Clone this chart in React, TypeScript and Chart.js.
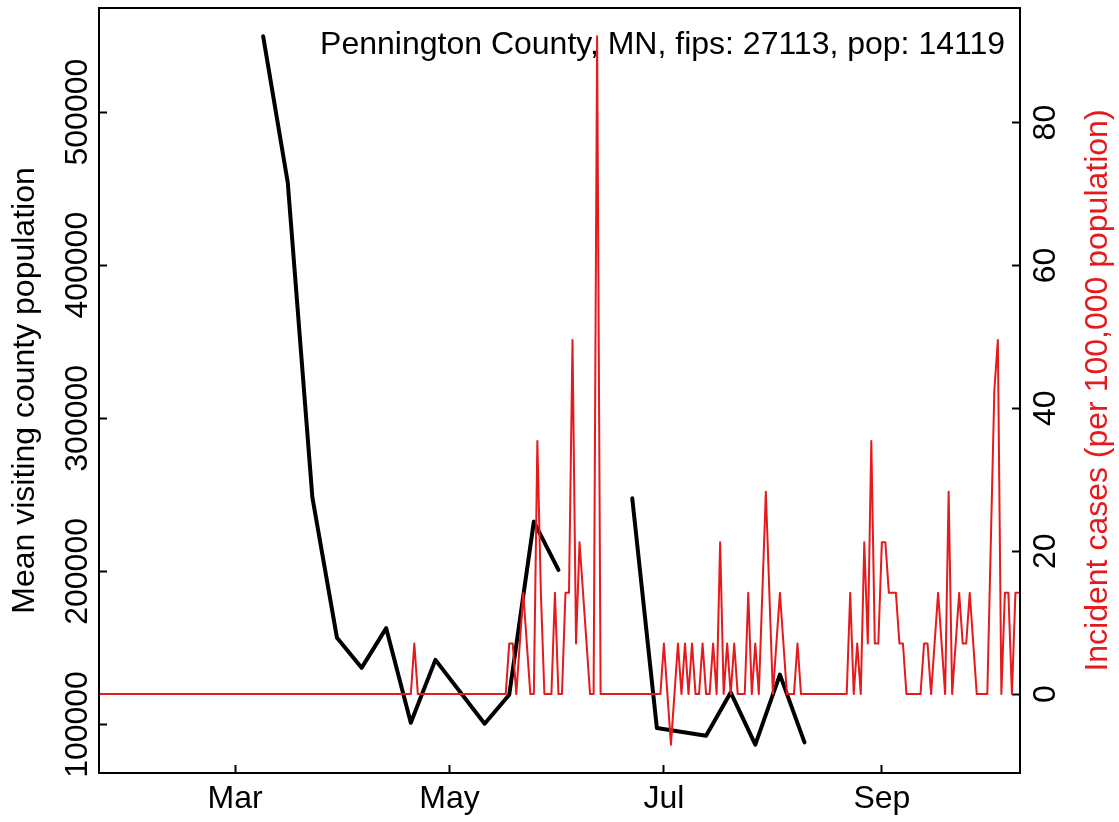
import React, { useEffect, useRef } from 'react';
import { Chart, registerables } from 'chart.js';

Chart.register(...registerables);

// ---------- DATA ----------
const TITLE = 'Pennington County, MN, fips: 27113, pop: 14119';
const LEFT_TITLE = 'Mean visiting county population';
const RIGHT_TITLE = 'Incident cases (per 100,000 population)';
const POPULATION = 14119;

// x values are day-of-year 2020 (Jan 1 = 0)
const monthTickDays = [60, 121, 182, 244];
const monthTickLabels = ['Mar', 'May', 'Jul', 'Sep'];

const leftTicks = [100000, 200000, 300000, 400000, 500000];
const rightTicks = [0, 20, 40, 60, 80];

// weekly mean visiting population (null = missing, breaks the line)
const visitDays = [68, 75, 82, 89, 96, 103, 110, 117, 131, 138, 145, 152, 159, 173, 180, 194, 201, 208, 215, 222];
const visitValues = [549500, 453900, 248300, 156600, 137000, 162900, 101100, 142200, 100500, 119400, 232500, 201000, null, 247700, 97700, 92600, 120900, 86800, 132600, 88300];

// daily new cases, first day = Jan 22 (day 21)
const caseStartDay = 21;
const dailyCases = [
  0, 0, 0, 0, 0, 0, 0, 0, 0, 0, 0, 0, 0, 0, 0, 0, 0, 0, 0, 0, 0, 0, 0, 0, 0, 0, 0, 0, 0, 0,
  0, 0, 0, 0, 0, 0, 0, 0, 0, 0, 0, 0, 0, 0, 0, 0, 0, 0, 0, 0, 0, 0, 0, 0, 0, 0, 0, 0, 0, 0,
  0, 0, 0, 0, 0, 0, 0, 0, 0, 0, 0, 0, 0, 0, 0, 0, 0, 0, 0, 0, 0, 0, 0, 0, 0, 0, 0, 0, 0, 0,
  1, 0, 0, 0, 0, 0, 0, 0, 0, 0, 0, 0, 0, 0, 0, 0, 0, 0, 0, 0, 0, 0, 0, 0, 0, 0, 0, 1, 1, 0,
  1, 2, 1, 0, 0, 5, 2, 0, 0, 0, 2, 0, 0, 2, 2, 7, 1, 3, 2, 1, 0, 0, 13, 0, 0, 0, 0, 0, 0, 0,
  0, 0, 0, 0, 0, 0, 0, 0, 0, 0, 0, 1, 0, -1, 0, 1, 0, 1, 0, 1, 0, 0, 1, 0, 0, 1, 0, 3, 0, 1,
  0, 1, 0, 0, 0, 2, 0, 1, 0, 2, 4, 2, 0, 1, 2, 1, 0, 0, 0, 1, 0, 0, 0, 0, 0, 0, 0, 0, 0, 0,
  0, 0, 0, 0, 2, 0, 1, 0, 3, 1, 5, 1, 1, 3, 3, 2, 2, 2, 1, 1, 0, 0, 0, 0, 0, 1, 1, 0, 1, 2,
  1, 0, 4, 0, 1, 2, 1, 1, 2, 1, 0, 0, 0, 0, 3, 6, 7, 0, 2, 2, 0, 2, 2,
];

// ---------- STYLE ----------
const FONT = '"Liberation Sans", Arial, Helvetica, sans-serif';
const RED = '#E41A1C';
const W = 1119;
const H = 822;

const decorPlugin = {
  id: 'decor',
  afterDraw(chart: any) {
    const { ctx, chartArea } = chart;
    ctx.save();
    ctx.strokeStyle = '#000';
    ctx.lineWidth = 2;
    ctx.strokeRect(chartArea.left, chartArea.top, chartArea.right - chartArea.left, chartArea.bottom - chartArea.top);
    ctx.font = `32px ${FONT}`;
    ctx.fillStyle = '#000';
    ctx.textAlign = 'right';
    ctx.textBaseline = 'middle';
    ctx.fillText(TITLE, 1005, 45);
    const cy = (chartArea.top + chartArea.bottom) / 2;
    ctx.textAlign = 'center';
    ctx.save();
    ctx.translate(25, cy);
    ctx.rotate(-Math.PI / 2);
    ctx.fillText(LEFT_TITLE, 0, 0);
    ctx.restore();
    ctx.save();
    ctx.fillStyle = RED;
    ctx.translate(1098, cy);
    ctx.rotate(-Math.PI / 2);
    ctx.fillText(RIGHT_TITLE, 0, 0);
    ctx.restore();
    ctx.restore();
  },
};

const noPad = (s: any) => {
  s.paddingTop = 0;
  s.paddingBottom = 0;
  s.paddingLeft = 0;
  s.paddingRight = 0;
};

export default function App() {
  const ref = useRef<HTMLCanvasElement>(null);

  useEffect(() => {
    const canvas = ref.current;
    if (!canvas) return;
    const casePoints = dailyCases.map((c, i) => ({ x: caseStartDay + i, y: (c * 100000) / POPULATION }));
    const visitPoints = visitDays.map((d, i) => ({ x: d, y: visitValues[i] }));
    const tickFont = { family: FONT, size: 32 };
    const chart = new Chart(canvas, {
      type: 'line',
      data: {
        datasets: [
          {
            label: 'cases',
            data: casePoints as any,
            yAxisID: 'yR',
            borderColor: RED,
            borderWidth: 2,
            pointRadius: 0,
            tension: 0,
            borderJoinStyle: 'round',
            borderCapStyle: 'round',
            order: 0,
          },
          {
            label: 'visits',
            data: visitPoints as any,
            yAxisID: 'yL',
            borderColor: '#000',
            borderWidth: 4,
            pointRadius: 0,
            tension: 0,
            spanGaps: false,
            borderJoinStyle: 'round',
            borderCapStyle: 'round',
            order: 1,
          },
        ],
      },
      options: {
        animation: false,
        responsive: false,
        devicePixelRatio: 1,
        layout: { padding: { top: 8, left: 0, right: 0, bottom: 0 } },
        plugins: { legend: { display: false }, tooltip: { enabled: false }, title: { display: false } },
        scales: {
          x: {
            type: 'linear',
            position: 'bottom',
            min: 21.3,
            max: 283.3,
            afterBuildTicks: (s: any) => { s.ticks = monthTickDays.map((v) => ({ value: v })); },
            afterFit: (s: any) => { s.height = 49; noPad(s); },
            ticks: {
              autoSkip: false,
              maxRotation: 0,
              minRotation: 0,
              padding: 15,
              color: '#000',
              font: tickFont,
              callback: (v: any) => monthTickLabels[monthTickDays.indexOf(Number(v))] ?? '',
            },
            grid: { drawOnChartArea: false, drawTicks: true, tickLength: -8, tickWidth: 2, tickColor: '#000' },
            border: { display: true, color: '#000', width: 2 },
          },
          yL: {
            type: 'linear',
            position: 'left',
            min: 68300,
            max: 568000,
            afterBuildTicks: (s: any) => { s.ticks = leftTicks.map((v) => ({ value: v })); },
            afterFit: (s: any) => { s.width = 99; noPad(s); },
            ticks: {
              autoSkip: false,
              minRotation: 90,
              maxRotation: 90,
              crossAlign: 'center',
              padding: -24.4,
              color: '#000',
              font: tickFont,
              callback: (v: any) => String(v),
            },
            grid: { drawOnChartArea: false, drawTicks: true, tickLength: -8, tickWidth: 2, tickColor: '#000' },
            border: { display: true, color: '#000', width: 2 },
          },
          yR: {
            type: 'linear',
            position: 'right',
            min: -11.05,
            max: 96.04,
            afterBuildTicks: (s: any) => { s.ticks = rightTicks.map((v) => ({ value: v })); },
            afterFit: (s: any) => { s.width = 99; noPad(s); },
            ticks: {
              autoSkip: false,
              minRotation: 90,
              maxRotation: 90,
              crossAlign: 'center',
              padding: 16.2,
              color: '#000',
              font: tickFont,
              callback: (v: any) => String(v),
            },
            grid: { drawOnChartArea: false, drawTicks: true, tickLength: -8, tickWidth: 2, tickColor: '#000' },
            border: { display: true, color: '#000', width: 2 },
          },
        },
      } as any,
      plugins: [decorPlugin],
    });
    return () => chart.destroy();
  }, []);

  return (
    <div style={{ position: 'fixed', left: 0, top: 0, width: W, height: H, background: '#fff' }}>
      <canvas ref={ref} width={W} height={H} style={{ display: 'block', width: W, height: H }} />
    </div>
  );
}
